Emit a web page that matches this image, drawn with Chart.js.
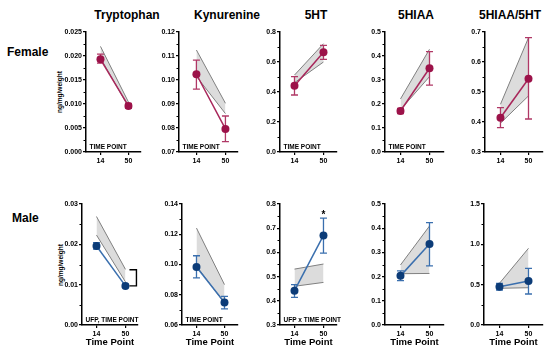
<!DOCTYPE html>
<html>
<head>
<meta charset="utf-8">
<script src="https://cdn.jsdelivr.net/npm/chart.js@4.4.1/dist/chart.umd.min.js"></script>
<style>
body { margin:0; width:550px; height:348px; background:#fff; position:relative; overflow:hidden; font-family:"Liberation Sans", Arial, sans-serif; }
.lbl { position:absolute; font-weight:bold; color:#000; white-space:nowrap; }
.title { font-size:12px; top:15px; transform:translate(-50%,-50%); }
.row { font-size:12px; transform:translateY(-50%); }
.ylab { font-size:6.5px; line-height:7px; transform:translate(-50%,-50%) rotate(-90deg); }
canvas { position:absolute; }
</style>
</head>
<body>
<script>
// Data
const timePoints = ["14", "50"];
const panelTitles = ["Tryptophan", "Kynurenine", "5HT", "5HIAA", "5HIAA/5HT"];
const rowNames = ["Female", "Male"];
const yTitle = "ng/mg/weight";

// female: mean, error bar ends, grey band (upper / lower edge)
const femaleMean   = [[0.0193, 0.0096], [0.1024, 0.0796], [0.442, 0.665], [0.171, 0.349], [0.414, 0.544]];
const femaleErrHi  = [[0.0204, 0.0101], [0.1083, 0.0850], [0.502, 0.711], [0.182, 0.418], [0.448, 0.681]];
const femaleErrLo  = [[0.0185, 0.0091], [0.0962, 0.0743], [0.380, 0.618], [0.160, 0.279], [0.381, 0.410]];
const femaleBandHi = [[0.0220, 0.0104], [0.1125, 0.0903], [0.513, 0.722], [0.221, 0.428], [0.459, 0.681]];
const femaleBandLo = [[0.0196, 0.0094], [0.1015, 0.0860], [0.462, 0.600], [0.176, 0.314], [0.396, 0.487]];

// male
const maleMean   = [[0.0196, 0.0097], [0.0983, 0.0749], [0.442, 0.670], [0.203, 0.335], [0.475, 0.545]];
const maleErrHi  = [[0.0204, 0.0101], [0.1058, 0.0789], [0.467, 0.742], [0.224, 0.423], [0.517, 0.703]];
const maleErrLo  = [[0.0188, 0.0093], [0.0911, 0.0706], [0.414, 0.597], [0.183, 0.244], [0.434, 0.384]];
const maleBandHi = [[0.0269, 0.0138], [0.1241, 0.0867], [0.531, 0.552], [0.248, 0.409], [0.517, 0.951]];
const maleBandLo = [[0.0223, 0.0107], [0.0990, 0.0745], [0.460, 0.476], [0.212, 0.213], [0.455, 0.462]];

// y axes: min, max, step, decimals
const femaleYAxis = [[0, 0.025, 0.005, 3], [0.07, 0.12, 0.01, 2], [0, 0.8, 0.2, 1], [0, 0.5, 0.1, 1], [0.3, 0.7, 0.1, 1]];
const maleYAxis   = [[0, 0.03, 0.01, 2], [0.06, 0.14, 0.02, 2], [0.3, 0.8, 0.1, 1], [0, 0.5, 0.1, 1], [0, 1.5, 0.5, 1]];

// annotations
const femaleNotes = ["TIME POINT", "TIME POINT", "TIME POINT", "TIME POINT", ""];
const maleNotes   = ["UFP, TIME POINT", "TIME POINT", "UFP x TIME POINT", "", ""];
const maleStars   = ["", "", "*", "", ""];
const maleBracket = [[0.0137, 0.0097], null, null, null, null];

// Layout (px): y-axis x, x of "14", x of "50", end of x-axis
const titleX = [127, 227, 316, 416, 510];
const femaleX = [[86, 101, 130, 143], [179, 197, 227, 240], [280, 295, 325, 339], [385, 401, 431, 446], [485, 501, 530, 545]];
const maleX   = [[82, 97, 127, 140], [182, 197, 226, 240], [280, 295, 325, 339], [385, 401, 431, 446], [484, 500, 530, 545]];
const YW = 40, PT = 8;
const FONT = "'Liberation Sans', Arial, sans-serif";

const rows = [
  { top: 32, bottom: 152, xh: 22, xTitle: "", labelX: 7, labelY: 52, yLabX: 59,
    mean: femaleMean, hi: femaleErrHi, lo: femaleErrLo, bandHi: femaleBandHi, bandLo: femaleBandLo,
    yAxis: femaleYAxis, xPos: femaleX, notes: femaleNotes, stars: [], bracket: [],
    point: "#9c1249", line: "#a8265a", err: "#b03866" },
  { top: 204, bottom: 325, xh: 24, xTitle: "Time Point", labelX: 12, labelY: 218, yLabX: 60,
    mean: maleMean, hi: maleErrHi, lo: maleErrLo, bandHi: maleBandHi, bandLo: maleBandLo,
    yAxis: maleYAxis, xPos: maleX, notes: maleNotes, stars: maleStars, bracket: maleBracket,
    point: "#0c3c78", line: "#3a6fae", err: "#3a6fae" }
];

function addLabel(cls, text, style) {
  const d = document.createElement("div");
  d.className = "lbl " + cls;
  d.textContent = text;
  Object.assign(d.style, style);
  document.body.appendChild(d);
}

panelTitles.forEach((t, i) => addLabel("title", t, { left: titleX[i] + "px" }));
rows.forEach((r, k) => {
  addLabel("row", rowNames[k], { left: r.labelX + "px", top: r.labelY + "px" });
  addLabel("ylab", yTitle, { left: r.yLabX + "px", top: ((r.top + r.bottom) / 2) + "px" });
});

function pts(arr) { return arr.map((v, i) => ({ x: i, y: v })); }

function extras(r, i) {
  return {
    id: "extras",
    beforeDatasetDraw(chart, args) {
      if (args.index !== 0) return;
      const ctx = chart.ctx, xs = chart.scales.x, ys = chart.scales.y;
      ctx.save();
      ctx.strokeStyle = r.err;
      ctx.lineWidth = 1.3;
      r.mean[i].forEach((v, j) => {
        const x = xs.getPixelForValue(j);
        const y1 = ys.getPixelForValue(r.hi[i][j]);
        const y2 = ys.getPixelForValue(r.lo[i][j]);
        ctx.beginPath();
        ctx.moveTo(x, y1); ctx.lineTo(x, y2);
        ctx.moveTo(x - 3.5, y1); ctx.lineTo(x + 3.5, y1);
        ctx.moveTo(x - 3.5, y2); ctx.lineTo(x + 3.5, y2);
        ctx.stroke();
      });
      ctx.restore();
    },
    afterDatasetsDraw(chart) {
      const ctx = chart.ctx, xs = chart.scales.x, ys = chart.scales.y, a = chart.chartArea;
      ctx.save();
      const note = r.notes[i];
      if (note) {
        ctx.font = "bold 6.5px " + FONT;
        ctx.fillStyle = "#000";
        ctx.textBaseline = "alphabetic";
        ctx.fillText(note, a.left + 3.5, a.bottom - 3);
      }
      const star = r.stars[i];
      if (star) {
        ctx.font = "bold 10px " + FONT;
        ctx.fillStyle = "#000";
        ctx.textAlign = "center";
        ctx.textBaseline = "middle";
        ctx.fillText(star, xs.getPixelForValue(1), ys.getPixelForValue(r.hi[i][1]) - 3);
      }
      const br = r.bracket[i];
      if (br) {
        const x = xs.getPixelForValue(1);
        const y1 = ys.getPixelForValue(br[0]), y2 = ys.getPixelForValue(br[1]);
        ctx.strokeStyle = "#000";
        ctx.lineWidth = 1.4;
        ctx.beginPath();
        ctx.moveTo(x + 4, y1); ctx.lineTo(x + 11, y1); ctx.lineTo(x + 11, y2); ctx.lineTo(x + 4, y2);
        ctx.stroke();
      }
      ctx.restore();
    },
    afterDraw(chart) {
      // short minor ticks on the y axis
      const ctx = chart.ctx, ys = chart.scales.y, a = chart.chartArea;
      ctx.save();
      ctx.strokeStyle = "#000";
      ctx.lineWidth = 1;
      ys.ticks.forEach(t => {
        if (!t.minor) return;
        const y = Math.round(ys.getPixelForValue(t.value)) + 0.5;
        ctx.beginPath();
        ctx.moveTo(a.left - 2.5, y); ctx.lineTo(a.left, y);
        ctx.stroke();
      });
      ctx.restore();
    }
  };
}

function drawPanel(r, i) {
  const [ax, x0, x1, ex] = r.xPos[i];
  const unit = x1 - x0;
  const [yMin, yMax, yStep, dec] = r.yAxis[i];
  const left = ax - YW;
  const canvas = document.createElement("canvas");
  canvas.width = ex - left + 2;
  canvas.height = PT + (r.bottom - r.top) + r.xh;
  canvas.style.left = left + "px";
  canvas.style.top = (r.top - PT) + "px";
  document.body.appendChild(canvas);

  new Chart(canvas, {
    type: "line",
    data: {
      datasets: [
        { data: pts(r.mean[i]), borderColor: r.line, borderWidth: 1.5, pointRadius: 4,
          pointBackgroundColor: r.point, pointBorderColor: r.point, pointBorderWidth: 0, fill: false },
        { data: pts(r.bandHi[i]), borderColor: "#808080", borderWidth: 1, pointRadius: 0, fill: false },
        { data: pts(r.bandLo[i]), borderColor: "#808080", borderWidth: 1, pointRadius: 0,
          fill: "-1", backgroundColor: "#dcdcdc" }
      ]
    },
    options: {
      responsive: false,
      animation: false,
      devicePixelRatio: 1,
      layout: { padding: { top: PT, right: 2, left: 0, bottom: 0 } },
      plugins: { legend: { display: false }, tooltip: { enabled: false } },
      scales: {
        x: {
          type: "linear",
          min: -(x0 - ax) / unit,
          max: 1 + (ex - x1) / unit,
          afterBuildTicks: s => { s.ticks = timePoints.map((t, j) => ({ value: j })); },
          afterFit: s => { s.height = r.xh; },
          ticks: { callback: v => timePoints[v], color: "#000", padding: 2, maxRotation: 0, autoSkip: false,
                   font: { family: FONT, size: 7, weight: "bold" } },
          grid: { drawOnChartArea: false, tickLength: 3, color: "#000", lineWidth: 1.2 },
          border: { color: "#000", width: 1.5 },
          title: { display: !!r.xTitle, text: r.xTitle, color: "#000", padding: { top: 0, bottom: 1 },
                   font: { family: FONT, size: 9.5, weight: "bold" } }
        },
        y: {
          min: yMin,
          max: yMax,
          afterBuildTicks: s => {
            const n = Math.round((yMax - yMin) / yStep) * 2;
            const list = [];
            for (let k = 0; k <= n; k++) {
              list.push({ value: +(yMin + k * yStep / 2).toFixed(6), minor: k % 2 === 1 });
            }
            s.ticks = list;
          },
          afterFit: s => { s.width = YW; },
          ticks: { callback: (v, j, t) => t[j].minor ? "" : v.toFixed(dec), color: "#000", padding: 1, autoSkip: false,
                   font: { family: FONT, size: 7, weight: "bold" } },
          grid: { drawOnChartArea: false, tickLength: 3, lineWidth: 1.2,
                  color: c => (c.tick && c.tick.minor) ? "rgba(0,0,0,0)" : "#000" },
          border: { color: "#000", width: 1.5 }
        }
      }
    },
    plugins: [extras(r, i)]
  });
}

rows.forEach(r => panelTitles.forEach((t, i) => drawPanel(r, i)));
</script>
</body>
</html>
